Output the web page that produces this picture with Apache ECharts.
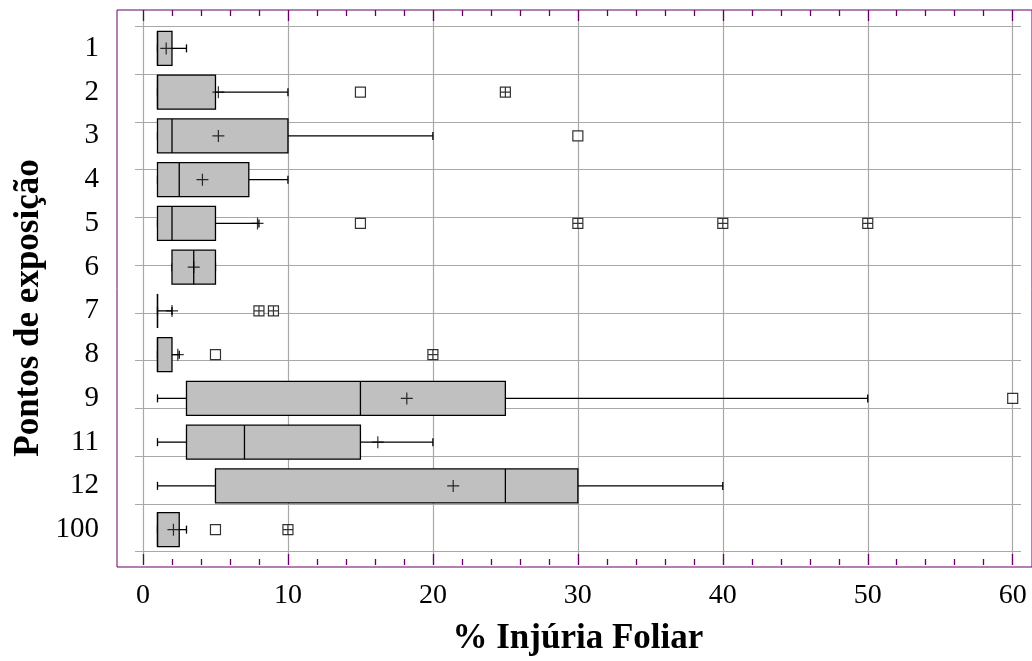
<!DOCTYPE html>
<html>
<head>
<meta charset="utf-8">
<title>Injúria Foliar</title>
<script src="https://cdn.jsdelivr.net/npm/echarts@6/dist/echarts.min.js"></script>
<style>
  html, body { margin: 0; padding: 0; background: #fff; }
  #main { width: 1032px; height: 661px; }
</style>
</head>
<body>
<div id="main"></div>
<script>
// pontos de exposição (de cima para baixo)
var categories = ['1', '2', '3', '4', '5', '6', '7', '8', '9', '11', '12', '100'];
// estatísticas (% injúria foliar)
var whiskerLow  = [1, 1, 1, 1,   1, 2,   1, 1,   1,  1,  1, 1];
var q1          = [1, 1, 1, 1,   1, 2,   1, 1,   3,  3,  5, 1];
var median      = [1, 1, 2, 2.5, 2, 3.5, 1, 1,  15,  7, 25, 1];
var q3          = [2, 5, 10, 7.3, 5, 5,  1, 2,  25, 15, 30, 2.5];
var whiskerHigh = [3, 10, 20, 10, 8, 5,  2, 2.5, 50, 20, 40, 3];
var means       = [1.6, 5.2, 5.2, 4.1, 7.9, 3.5, 2.0, 2.4, 18.2, 16.2, 21.4, 2.1];
// pontos fora (quadrado) e muito fora (quadrado com +)
var outsidePts    = [[15, '2'], [30, '3'], [15, '5'], [5, '8'], [60, '9'], [5, '100']];
var farOutsidePts = [[25, '2'], [30, '5'], [40, '5'], [50, '5'], [8, '7'], [9, '7'], [20, '8'], [10, '100']];
var xTicks = [0, 60, 10];  // min, max, intervalo

var boxData = categories.map(function (c, i) {
  return [i, whiskerLow[i], q1[i], median[i], q3[i], whiskerHigh[i]];
});
var meanData = categories.map(function (c, i) { return [means[i], i]; });
function toIdx(p) { return [p[0], categories.indexOf(p[1])]; }

var purple = '#660066';
var gridGray = '#a8a8a8';
var serif = 'Liberation Serif';

function renderBox(params, api) {
  var c = api.value(0);
  var pMin = api.coord([api.value(1), c]);
  var pQ1 = api.coord([api.value(2), c]);
  var pMed = api.coord([api.value(3), c]);
  var pQ3 = api.coord([api.value(4), c]);
  var pMax = api.coord([api.value(5), c]);
  var y = pMin[1];
  var h = 34, cap = 8;
  var ls = { stroke: '#000', lineWidth: 1.3 };
  return {
    type: 'group',
    children: [
      { type: 'line', shape: { x1: pMin[0], y1: y, x2: pQ1[0], y2: y }, style: ls },
      { type: 'line', shape: { x1: pQ3[0], y1: y, x2: pMax[0], y2: y }, style: ls },
      { type: 'line', shape: { x1: pMin[0], y1: y - cap / 2, x2: pMin[0], y2: y + cap / 2 }, style: ls },
      { type: 'line', shape: { x1: pMax[0], y1: y - cap / 2, x2: pMax[0], y2: y + cap / 2 }, style: ls },
      { type: 'rect', shape: { x: pQ1[0], y: y - h / 2, width: pQ3[0] - pQ1[0], height: h },
        style: { fill: '#c0c0c0', stroke: '#000', lineWidth: 1.3 } },
      { type: 'line', shape: { x1: pMed[0], y1: y - h / 2, x2: pMed[0], y2: y + h / 2 }, style: ls }
    ]
  };
}

var myChart = echarts.init(document.getElementById('main'));
var option = {
  animation: false,
  backgroundColor: '#fff',
  grid: [
    // moldura
    { left: 117, right: -3, top: 10, bottom: 94, show: true, borderColor: purple, borderWidth: 1, backgroundColor: 'transparent' },
    // eixo x
    { left: 143, right: 19.3, top: 10, bottom: 94 },
    // caixas
    { left: 135, width: 886, top: 26.5, height: 525 }
  ],
  xAxis: [
    { gridIndex: 0, type: 'value', show: false },
    {
      gridIndex: 1, type: 'value', position: 'bottom',
      min: xTicks[0], max: xTicks[1], interval: xTicks[2],
      axisLine: { show: false },
      axisTick: { show: true, inside: true, length: 11, lineStyle: { color: purple, width: 1.3 } },
      minorTick: { show: true, splitNumber: 5, length: 6, lineStyle: { color: purple, width: 1.3 } },
      splitLine: { show: true, lineStyle: { color: gridGray, width: 1.2 } },
      axisLabel: { fontFamily: serif, fontSize: 28, color: '#000', margin: 17 },
      name: '% Injúria Foliar', nameLocation: 'middle', nameGap: 56,
      nameTextStyle: { fontFamily: serif, fontSize: 35, fontWeight: 'bold', color: '#000' }
    },
    {
      gridIndex: 1, type: 'value', position: 'top',
      min: xTicks[0], max: xTicks[1], interval: xTicks[2],
      axisLine: { show: false },
      axisTick: { show: true, inside: true, length: 11, lineStyle: { color: purple, width: 1.3 } },
      minorTick: { show: true, splitNumber: 5, length: 6, lineStyle: { color: purple, width: 1.3 } },
      splitLine: { show: false },
      axisLabel: { show: false }
    },
    { gridIndex: 2, type: 'value', min: -0.552, max: 60.573, show: false }
  ],
  yAxis: [
    { gridIndex: 0, type: 'value', show: false },
    { gridIndex: 1, type: 'value', show: false },
    {
      gridIndex: 2, type: 'category', data: categories, inverse: true,
      axisLine: { show: false }, axisTick: { show: false }, splitLine: { show: false },
      axisLabel: { fontFamily: serif, fontSize: 29, color: '#000', align: 'right', margin: 36 }
    },
    {
      gridIndex: 2, type: 'value', min: 0, max: 11, interval: 1,
      axisLine: { show: false }, axisTick: { show: false }, axisLabel: { show: false },
      splitLine: { show: true, lineStyle: { color: gridGray, width: 1.2 } }
    }
  ],
  graphic: [{
    type: 'text', rotation: Math.PI / 2,
    x: 29, y: 308,
    style: { text: 'Pontos de exposição', font: 'bold 35px "Liberation Serif"', fill: '#000',
             textAlign: 'center', textVerticalAlign: 'middle' }
  }],
  series: [
    {
      type: 'custom', xAxisIndex: 3, yAxisIndex: 2,
      renderItem: renderBox, data: boxData,
      encode: { x: [1, 2, 3, 4, 5], y: 0 }, z: 3
    },
    {
      type: 'scatter', xAxisIndex: 3, yAxisIndex: 2, data: meanData,
      symbol: 'path://M0,5L10,5M5,0L5,10', symbolSize: 12,
      itemStyle: { color: 'rgba(0,0,0,0)', borderColor: '#000', borderWidth: 1.2 }, z: 4
    },
    {
      type: 'scatter', xAxisIndex: 3, yAxisIndex: 2, data: outsidePts.map(toIdx),
      symbol: 'rect', symbolSize: 10,
      itemStyle: { color: '#fff', borderColor: '#000', borderWidth: 1.2 }, z: 5
    },
    {
      type: 'scatter', xAxisIndex: 3, yAxisIndex: 2, data: farOutsidePts.map(toIdx),
      symbol: 'path://M0,0H10V10H0ZM5,0V10M0,5H10', symbolSize: 10,
      itemStyle: { color: '#fff', borderColor: '#000', borderWidth: 1.2 }, z: 5
    }
  ]
};
myChart.setOption(option);
</script>
</body>
</html>
